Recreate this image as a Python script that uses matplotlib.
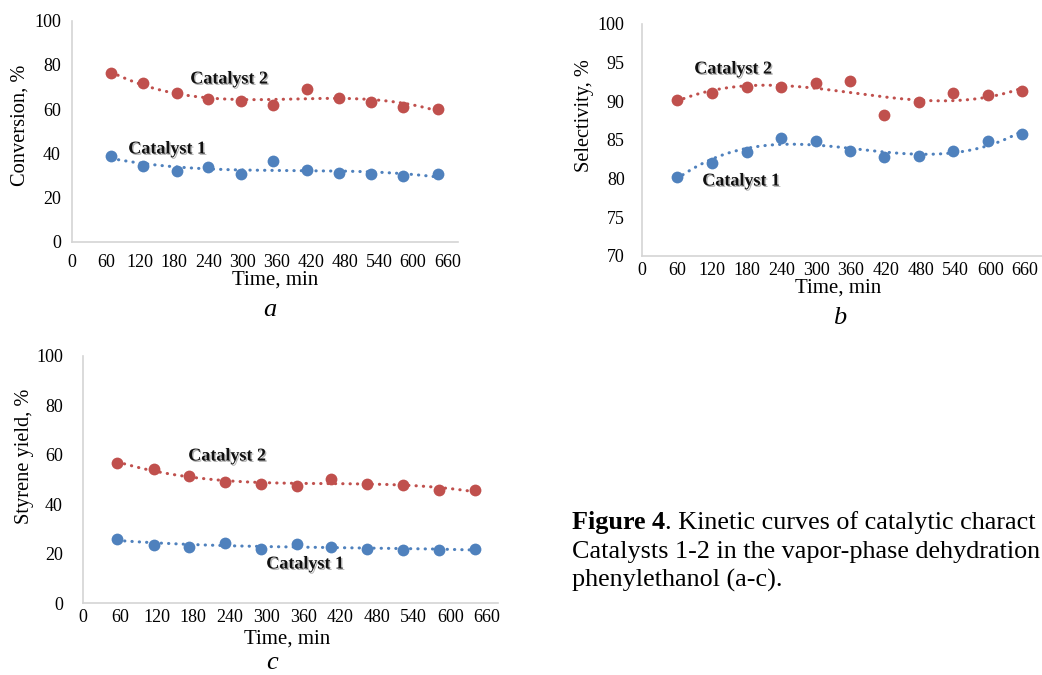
import numpy as np
import matplotlib
matplotlib.use("Agg")
import matplotlib.pyplot as plt
import matplotlib.patheffects as pe

W, H = 1042, 675
plt.rcParams['font.family'] = ['Liberation Serif', 'DejaVu Serif']

RED = '#C0504D'
BLUE = '#4F81BD'

# panel a: conversion
time_a = [69, 125, 185, 239, 298, 354, 414, 470, 526, 583, 643]
conv_cat1 = [39, 34.5, 32, 34, 30.6, 36.6, 32.7, 31, 30.6, 29.7, 30.6]
conv_cat2 = [76.4, 71.8, 67.3, 64.6, 63.7, 61.9, 69.1, 65.2, 63.4, 60.9, 60.3]

# panel b: selectivity
time_b = [60, 121, 181, 240, 300, 358, 417, 477, 536, 596, 655]
sel_cat1 = [80.25, 82.0, 83.5, 85.3, 84.9, 83.6, 82.8, 82.9, 83.6, 84.9, 85.8]
sel_cat2 = [90.2, 91.1, 91.9, 91.8, 92.4, 92.6, 88.2, 89.9, 91.1, 90.8, 91.4]

# panel c: styrene yield
time_c = [56, 116, 173, 232, 291, 350, 405, 464, 523, 582, 640]
yield_cat1 = [26.0, 23.6, 22.8, 24.4, 21.9, 24.0, 22.8, 21.9, 21.5, 21.5, 21.9]
yield_cat2 = [56.8, 54.1, 51.5, 48.9, 48.3, 47.5, 50.2, 48.2, 47.8, 45.6, 45.6]

xticks = list(range(0, 661, 60))

# caption lines as far as they show on the page (cut at the right edge)
caption_bold = 'Figure 4'
caption_lines = ['. Kinetic curves of catalytic charact',
                 'Catalysts 1-2 in the vapor-phase dehydration',
                 'phenylethanol (a-c).']

fig = plt.figure(figsize=(W / 100, H / 100), dpi=100)


def px(x, y):
    return x / W, 1 - y / H


def make_ax(left, top, right, bottom, xmax, ylim, yticks, xpad, ypad):
    ax = fig.add_axes([left / W, 1 - bottom / H, (right - left) / W, (bottom - top) / H])
    ax.set_xlim(0, xmax)
    ax.set_ylim(*ylim)
    ax.set_xticks(xticks)
    ax.set_yticks(yticks)
    ax.tick_params(length=0, labelsize=13)
    ax.tick_params(axis='x', pad=xpad)
    ax.tick_params(axis='y', pad=ypad)
    for s in ['top', 'right']:
        ax.spines[s].set_visible(False)
    for s in ['left', 'bottom']:
        ax.spines[s].set_color('#d4d4d4')
        ax.spines[s].set_linewidth(1.2)
    ax.patch.set_alpha(0)
    return ax


def series(ax, t, y, color):
    coef = np.polyfit(t, y, 3)
    tt = np.linspace(t[0], t[-1], 300)
    ax.plot(tt, np.polyval(coef, tt), color=color, lw=2.2,
            linestyle=(0, (0.1, 2.3)), dash_capstyle='round', zorder=2)
    ax.plot(t, y, 'o', color=color, markersize=8.5, markeredgewidth=0, zorder=3)


def label(x, y, s):
    fig.text(*px(x, y), s, ha='center', va='center', fontsize=13,
             fontweight='bold', color='#111111',
             path_effects=[pe.SimplePatchShadow(offset=(1, -1), alpha=0.3), pe.Normal()])


# a
ax_a = make_ax(72, 20.7, 458, 242, 679, (0, 100), range(0, 101, 20), 9, 8)
series(ax_a, time_a, conv_cat2, RED)
series(ax_a, time_a, conv_cat1, BLUE)
fig.text(*px(20, 125), 'Conversion, %', rotation=90, ha='center', va='center', fontsize=14.7)
fig.text(*px(275, 280), 'Time, min', ha='center', va='center', fontsize=15)
fig.text(*px(270, 310), 'a', ha='center', va='center', fontsize=19, style='italic')
label(229, 79, 'Catalyst 2')
label(167, 149, 'Catalyst 1')

# b
ax_b = make_ax(642, 24, 1042, 256, 689, (70, 100), range(70, 101, 5), 4.5, 12.5)
series(ax_b, time_b, sel_cat2, RED)
series(ax_b, time_b, sel_cat1, BLUE)
fig.text(*px(585, 116), 'Selectivity, %', rotation=90, ha='center', va='center', fontsize=14.7)
fig.text(*px(838, 288), 'Time, min', ha='center', va='center', fontsize=15)
fig.text(*px(840, 318), 'b', ha='center', va='center', fontsize=19, style='italic')
label(733, 69, 'Catalyst 2')
label(741, 181, 'Catalyst 1')

# c
ax_c = make_ax(83, 356, 498, 603, 678, (0, 100), range(0, 101, 20), 4.5, 14.5)
series(ax_c, time_c, yield_cat2, RED)
series(ax_c, time_c, yield_cat1, BLUE)
fig.text(*px(25, 456), 'Styrene yield, %', rotation=90, ha='center', va='center', fontsize=14.7)
fig.text(*px(287, 639), 'Time, min', ha='center', va='center', fontsize=15)
fig.text(*px(272, 674), 'c', ha='center', va='bottom', fontsize=19, style='italic')
label(227, 456, 'Catalyst 2')
label(305, 564, 'Catalyst 1')

# caption
cap = fig.add_axes([0, 0, 1, 1])
cap.axis('off')
cap.set_xlim(0, W)
cap.set_ylim(H, 0)
t1 = cap.text(572, 529, caption_bold, fontsize=18.8, fontweight='bold', va='baseline')
cap.annotate(caption_lines[0], xy=(1, 0), xycoords=t1,
             fontsize=18.8, va='bottom', annotation_clip=False)
cap.text(572, 558, caption_lines[1], fontsize=18.8, va='baseline')
cap.text(572, 587, caption_lines[2], fontsize=18.8, va='baseline')

fig.savefig('out.png', dpi=100)
